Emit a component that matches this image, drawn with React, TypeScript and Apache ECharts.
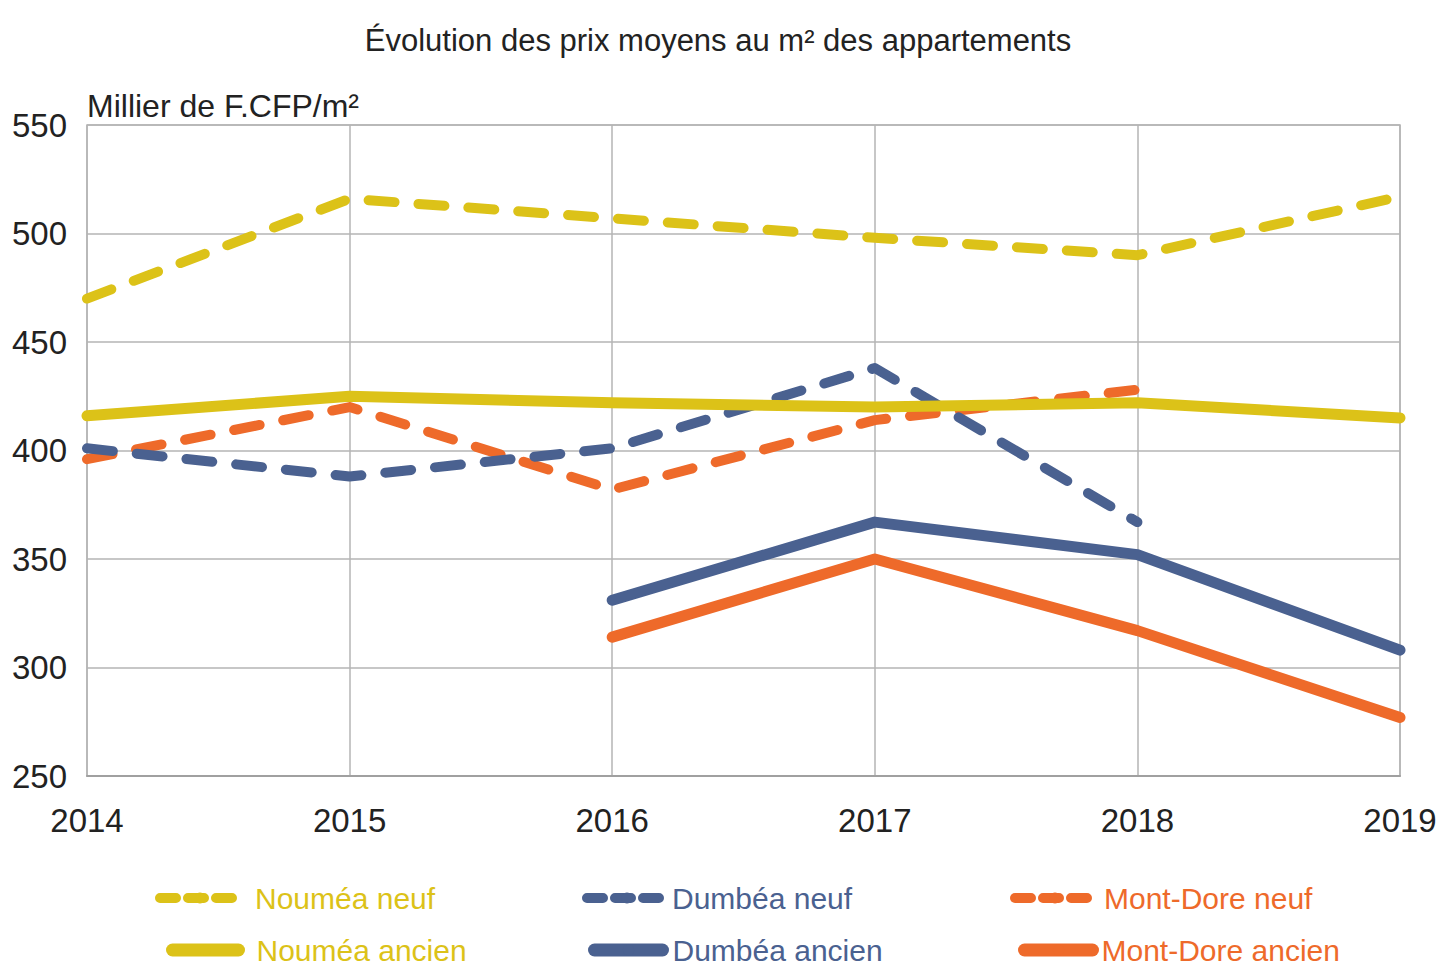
import React, { useEffect, useRef } from "react";
import * as echarts from "echarts";

const years = ["2014", "2015", "2016", "2017", "2018", "2019"];
const noumeaNeuf = [470, 516, 507, 498, 490, 517];
const noumeaAncien = [416, 425, 422, 420, 422, 415];
const dumbeaNeuf = [401, 388, 401, 438, 367, null];
const dumbeaAncien = [null, null, 331, 367, 352, 308];
const montDoreNeuf = [396, 420, 382, 414, 428, null];
const montDoreAncien = [null, null, 314, 350, 317, 277];

const YELLOW = "#dcc218";
const BLUE = "#4a6190";
const ORANGE = "#ee6a2a";
const FONT = "'Liberation Sans', Arial, sans-serif";

export default function App() {
  const ref = useRef<HTMLDivElement>(null);
  useEffect(() => {
    if (!ref.current) return;
    const chart = echarts.init(ref.current, undefined, { renderer: "svg" });
    const dash = [26, 24];
    const mk = (name: string, data: (number | null)[], color: string, dashed: boolean) => ({
      name,
      type: "line",
      data,
      symbol: "none",
      connectNulls: false,
      lineStyle: {
        color,
        width: dashed ? 10 : 11,
        type: dashed ? dash : "solid",
        cap: "round",
        join: "round",
      },
      itemStyle: { color },
    });
    const legendItem = (
      name: string,
      color: string,
      left: number,
      top: number,
      width: number,
      pad: number,
      dashed: boolean
    ) => ({
      data: [name],
      left,
      top,
      padding: 0,
      itemWidth: width,
      itemHeight: 14,
      textStyle: { color, fontSize: 30, fontFamily: FONT, padding: [0, 0, 0, pad] },
      lineStyle: dashed
        ? { width: 10, type: [16, 12], cap: "round" }
        : { width: 13, type: "solid", cap: "round" },
      selectedMode: false,
    });
    chart.setOption({
      animation: false,
      backgroundColor: "#ffffff",
      title: {
        text: "Évolution des prix moyens au m² des appartements",
        left: 713,
        textAlign: "center",
        top: 20,
        textStyle: { fontFamily: FONT, fontSize: 31, fontWeight: "normal", color: "#222" },
      },
      grid: {
        left: 87,
        right: 41,
        top: 125,
        bottom: 194,
        show: true,
        borderColor: "#b4b4b4",
        borderWidth: 1.5,
        outerBoundsMode: "none",
        containLabel: false,
      },
      xAxis: {
        type: "category",
        data: years,
        boundaryGap: false,
        axisLine: { show: true, lineStyle: { color: "#a0a0a0", width: 2 } },
        axisTick: { show: false },
        splitLine: { show: true, lineStyle: { color: "#b4b4b4", width: 1.5 } },
        axisLabel: { fontFamily: FONT, fontSize: 33, color: "#222", margin: 28 },
      },
      yAxis: {
        type: "value",
        min: 250,
        max: 550,
        interval: 50,
        name: "Millier de F.CFP/m²",
        nameLocation: "end",
        nameGap: 3,
        nameTextStyle: { fontFamily: FONT, fontSize: 32, color: "#222", align: "left", verticalAlign: "bottom" },
        axisLine: { show: false },
        axisTick: { show: false },
        splitLine: { show: true, lineStyle: { color: "#b4b4b4", width: 1.5 } },
        axisLabel: { fontFamily: FONT, fontSize: 33, color: "#222", margin: 20 },
      },
      legend: [
        legendItem("Nouméa neuf", YELLOW, 155, 883, 80, 10, true),
        legendItem("Dumbéa neuf", BLUE, 582, 883, 80, 0, true),
        legendItem("Mont-Dore neuf", ORANGE, 1010, 883, 80, 4, true),
        legendItem("Nouméa ancien", YELLOW, 166, 935, 66, 13, false),
        legendItem("Dumbéa ancien", BLUE, 588, 935, 68, 5, false),
        legendItem("Mont-Dore ancien", ORANGE, 1018, 935, 68, 4, false),
      ],
      series: [
        mk("Dumbéa ancien", dumbeaAncien, BLUE, false),
        mk("Mont-Dore ancien", montDoreAncien, ORANGE, false),
        mk("Mont-Dore neuf", montDoreNeuf, ORANGE, true),
        mk("Dumbéa neuf", dumbeaNeuf, BLUE, true),
        mk("Nouméa ancien", noumeaAncien, YELLOW, false),
        mk("Nouméa neuf", noumeaNeuf, YELLOW, true),
      ],
    });
    return () => chart.dispose();
  }, []);
  return (
    <div
      ref={ref}
      style={{ position: "fixed", left: 0, top: 0, width: 1441, height: 970, background: "#fff" }}
    />
  );
}
